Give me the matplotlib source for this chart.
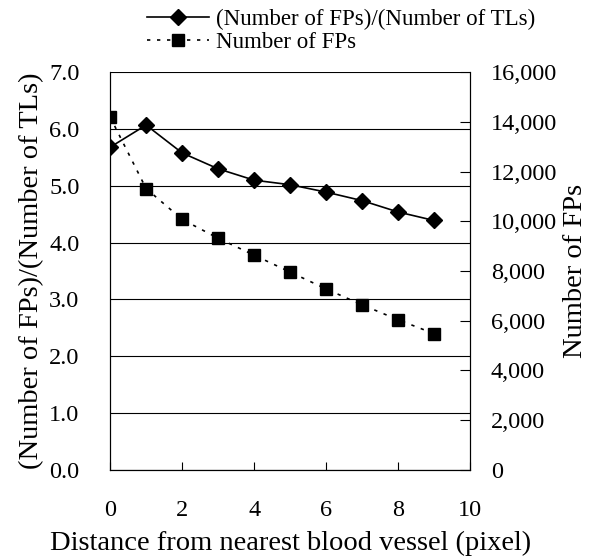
import matplotlib.pyplot as plt
from matplotlib.ticker import FuncFormatter

plt.rcParams['font.family'] = ['Liberation Serif', 'DejaVu Serif']

# data
distance = [0, 1, 2, 3, 4, 5, 6, 7, 8, 9]
fp_per_tl = [5.68, 6.07, 5.58, 5.30, 5.10, 5.02, 4.89, 4.74, 4.54, 4.39]
num_fps = [14200, 11320, 10080, 9320, 8640, 7960, 7280, 6640, 6040, 5480]

fig = plt.figure(figsize=(5.92, 5.6), dpi=100)
ax = fig.add_axes([0.186, 0.161, 0.608, 0.710])
ax2 = ax.twinx()

# left axis - ratio
l1, = ax.plot(distance, fp_per_tl, color='black', lw=1.2, marker='D', ms=8.5,
              label='(Number of FPs)/(Number of TLs)', zorder=3)
ax.set_xlim(0, 10)
ax.set_ylim(0, 7)
ax.set_yticks([0, 1, 2, 3, 4, 5, 6, 7])
ax.yaxis.set_major_formatter(FuncFormatter(lambda v, p: '%.1f' % v))
ax.set_xticks([0, 2, 4, 6, 8, 10])
ax.grid(axis='y', color='black', lw=0.8)
ax.tick_params(axis='y', length=0, labelsize=17.5, pad=22)
ax.tick_params(axis='x', direction='in', length=6, color='black', labelsize=17.5, pad=22)
ax.set_xlabel('Distance from nearest blood vessel (pixel)', fontsize=20.5, labelpad=7)
ax.set_ylabel('(Number of FPs)/(Number of TLs)', fontsize=20.5, labelpad=4)
ax.spines['top'].set_visible(False)

# right axis - count
l2, = ax2.plot(distance, num_fps, color='black', lw=1.2, ls=(0, (2, 4)), marker='s', ms=8,
               label='Number of FPs', zorder=3)
ax2.set_ylim(0, 16000)
ax2.set_yticks(range(0, 16001, 2000))
ax2.yaxis.set_major_formatter(FuncFormatter(lambda v, p: '{:,}'.format(int(v))))
ax2.tick_params(axis='y', direction='in', length=7, labelsize=17.5, pad=15)
ax2.set_ylabel('Number of FPs', fontsize=20.5, labelpad=4)
ax2.spines['top'].set_visible(False)

fig.legend(handles=[l1, l2], loc='upper left', bbox_to_anchor=(0.222, 1.012), frameon=False,
           fontsize=16.5, handlelength=2.7, handletextpad=0.3, labelspacing=0.05, borderpad=0.2)

fig.savefig('out.png', dpi=100)
